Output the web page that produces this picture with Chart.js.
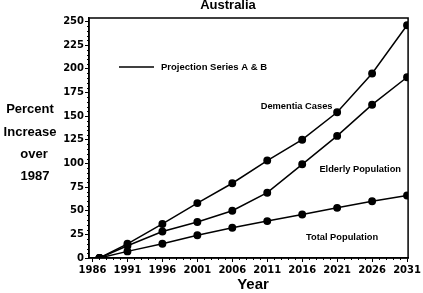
<!DOCTYPE html>
<html>
<head>
<meta charset="utf-8">
<script src="https://cdn.jsdelivr.net/npm/chart.js@4"></script>
<style>
  html, body { margin: 0; padding: 0; background: #fff; }
  #wrap { width: 423px; height: 293px; }
</style>
</head>
<body>
<div id="wrap"><canvas id="chart" width="423" height="293"></canvas></div>
<script>
// data
const years = [1987, 1991, 1996, 2001, 2006, 2011, 2016, 2021, 2026, 2031];
const dementia = [0, 15, 36, 58, 79, 103, 125, 154, 195, 246];
const elderly = [0, 13, 28, 38, 50, 69, 99, 129, 162, 191];
const total = [0, 7, 15, 24, 32, 39, 46, 53, 60, 66];
const xTicks = [1986, 1991, 1996, 2001, 2006, 2011, 2016, 2021, 2026, 2031];
const yTicks = [0, 25, 50, 75, 100, 125, 150, 175, 200, 225, 250];

// series labels, placed in data units
const seriesLabels = [
  { text: "Dementia Cases", x: 2015.2, y: 160 },
  { text: "Elderly Population", x: 2024.3, y: 94 },
  { text: "Total Population", x: 2021.7, y: 21.5 }
];

function pts(vals) {
  return years.map((yr, i) => ({ x: yr, y: vals[i] }));
}

function series(vals) {
  return {
    data: pts(vals),
    borderColor: "#000",
    backgroundColor: "#000",
    borderWidth: 1.5,
    pointRadius: 3.2,
    pointHoverRadius: 3.2,
    pointBackgroundColor: "#000",
    tension: 0
  };
}

const annot = {
  id: "annot",
  afterDraw(chart) {
    const ctx = chart.ctx;
    const a = chart.chartArea;
    const x = chart.scales.x;
    const y = chart.scales.y;
    ctx.save();
    ctx.strokeStyle = "#000";
    ctx.lineWidth = 1.5;
    ctx.strokeRect(a.left, a.top, a.right - a.left, a.bottom - a.top);

    // minor ticks
    ctx.lineWidth = 1;
    ctx.beginPath();
    for (let v = 5; v <= 250; v += 5) {
      if (v % 25 === 0) continue;
      const py = Math.round(y.getPixelForValue(v)) + 0.5;
      ctx.moveTo(a.left - 2, py);
      ctx.lineTo(a.left, py);
    }
    for (let yr = 1986; yr <= 2031; yr++) {
      if ((yr - 1986) % 5 === 0) continue;
      const px = Math.round(x.getPixelForValue(yr)) + 0.5;
      ctx.moveTo(px, a.bottom);
      ctx.lineTo(px, a.bottom + 2);
    }
    ctx.stroke();

    ctx.fillStyle = "#000";
    ctx.textAlign = "center";
    ctx.textBaseline = "middle";

    // series labels
    ctx.font = "bold 9.3px 'Liberation Sans'";
    seriesLabels.forEach(l => {
      ctx.fillText(l.text, x.getPixelForValue(l.x), y.getPixelForValue(l.y));
    });

    // legend
    ctx.lineWidth = 1.5;
    ctx.beginPath();
    ctx.moveTo(119, 67);
    ctx.lineTo(154, 67);
    ctx.stroke();
    ctx.textAlign = "left";
    ctx.font = "bold 9.5px 'Liberation Sans'";
    ctx.fillText("Projection Series A & B", 161, 67);

    // title (cut off at the top in the original)
    ctx.textAlign = "center";
    ctx.textBaseline = "alphabetic";
    ctx.font = "bold 13px 'Liberation Sans'";
    ctx.fillText("Australia", 228, 9);

    // y axis title
    ctx.textBaseline = "middle";
    ctx.font = "bold 13px 'Liberation Sans'";
    ctx.fillText("Percent", 30, 109);
    ctx.fillText("Increase", 30, 132);
    ctx.fillText("over", 34, 154);
    ctx.fillText("1987", 35, 176);

    // x axis title
    ctx.font = "bold 15px 'Liberation Sans'";
    ctx.fillText("Year", 253, 285);
    ctx.restore();
  }
};

new Chart(document.getElementById("chart"), {
  type: "line",
  data: {
    datasets: [series(dementia), series(elderly), series(total)]
  },
  options: {
    responsive: false,
    animation: false,
    layout: { padding: { left: 0, top: 18, right: 12, bottom: 0 } },
    plugins: {
      legend: { display: false },
      tooltip: { enabled: false },
      title: { display: false }
    },
    scales: {
      x: {
        type: "linear",
        min: 1985.5,
        max: 2031.15,
        afterBuildTicks: axis => { axis.ticks = xTicks.map(v => ({ value: v })); },
        afterFit: axis => { axis.height = 35; },
        grid: { drawOnChartArea: false, drawTicks: true, tickLength: 4, color: "#000", lineWidth: 1 },
        border: { display: true, color: "#000", width: 1.5 },
        ticks: {
          color: "#000",
          padding: 2,
          maxRotation: 0,
          autoSkip: false,
          font: { family: "DejaVu Sans", weight: "bold", size: 10 },
          callback: v => String(v)
        }
      },
      y: {
        min: 0,
        max: 253.6,
        afterBuildTicks: axis => { axis.ticks = yTicks.map(v => ({ value: v })); },
        afterFit: axis => { axis.width = 89; },
        grid: { drawOnChartArea: false, drawTicks: true, tickLength: 4, color: "#000", lineWidth: 1 },
        border: { display: true, color: "#000", width: 1.5 },
        ticks: {
          color: "#000",
          padding: 1,
          font: { family: "DejaVu Sans", weight: "bold", size: 10 },
          callback: v => String(v)
        }
      }
    }
  },
  plugins: [annot]
});
</script>
</body>
</html>
